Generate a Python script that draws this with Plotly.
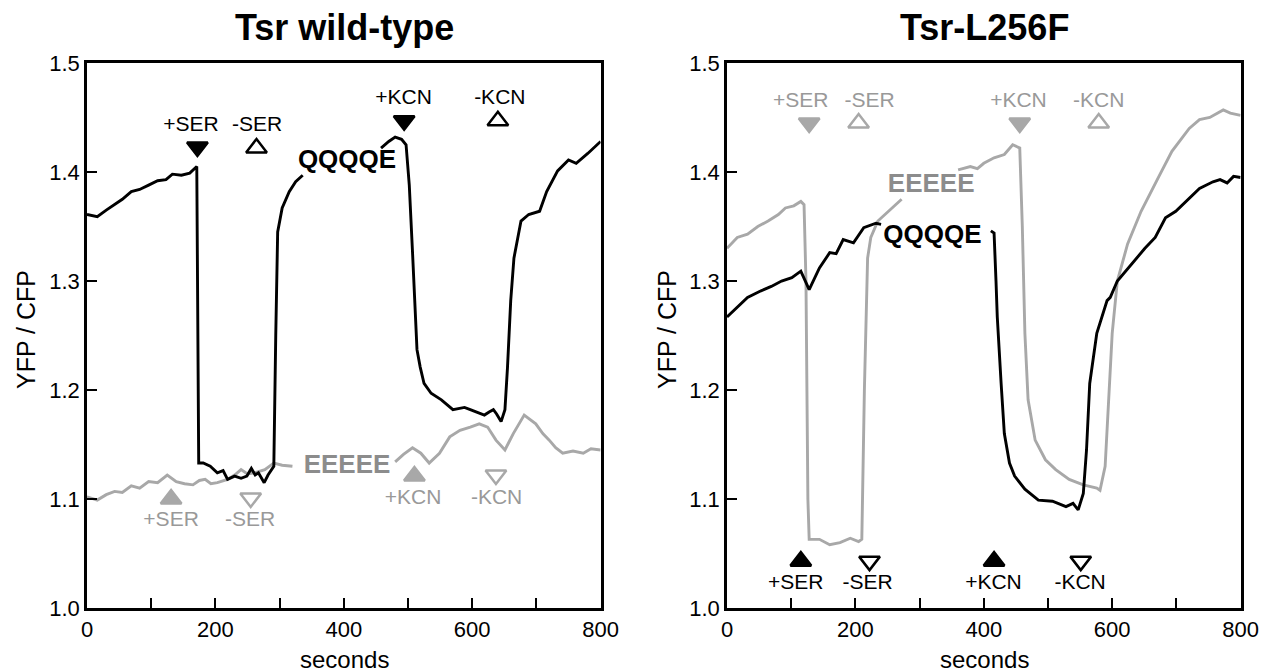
import plotly.graph_objects as go

# ---------------- data ----------------
# Left panel: Tsr wild-type
wt_qqqqe_t = [0, 16, 30, 43, 55, 69, 82, 96, 110, 123, 133, 147, 160, 171, 174, 181, 192, 203, 212, 219, 230,
              240, 249, 256, 262, 267, 276, 282, 288, 291,
              294, 297, 304, 315, 325, 336, None,
              458, 470, 480, 490, 497, 502, 507, 511, 514, 519, 525, 536, 552, 570, 588, 597, 610, 619, 627,
              633, 638, 645, 651,
              655, 660, 665, 676, 688, 705, 716, 733, 750, 762, 780, 800]
wt_qqqqe_y = [1.361, 1.359, 1.365, 1.370, 1.375, 1.382, 1.384, 1.388, 1.392, 1.393, 1.398, 1.397, 1.399, 1.405,
              1.133, 1.133, 1.130, 1.124, 1.126, 1.118, 1.121,
              1.119, 1.121, 1.128, 1.122, 1.124, 1.115, 1.122, 1.127, 1.130,
              1.250, 1.345, 1.367, 1.382, 1.391, 1.397, None,
              1.422, 1.428, 1.432, 1.430, 1.425, 1.388, 1.327, 1.267, 1.237, 1.221, 1.206, 1.197, 1.191, 1.182,
              1.184, 1.182, 1.179, 1.177, 1.180,
              1.182, 1.178, 1.171, 1.182,
              1.221, 1.282, 1.321, 1.355, 1.361, 1.364, 1.382, 1.401, 1.411, 1.408, 1.417, 1.428]

wt_eeeee_t = [0, 16, 30, 43, 55, 69, 82, 96, 110, 125, 139, 152, 165, 175, 184, 193, 203, 219, 230, 240, 250,
              261, 277, 291, 304, 320, None,
              480, 493, 507, 520, 533, 549, 565, 581, 597, 611, 624, 637, 651, 664, 681, 699, 710, 720, 730,
              741, 757, 773, 785, 800]
wt_eeeee_y = [1.102, 1.099, 1.104, 1.107, 1.106, 1.112, 1.110, 1.116, 1.115, 1.122, 1.116, 1.114, 1.113,
              1.117, 1.118, 1.114, 1.115, 1.118, 1.122, 1.127, 1.123, 1.124,
              1.127, 1.133, 1.131, 1.130, None,
              1.134, 1.141, 1.147, 1.142, 1.133, 1.142, 1.157, 1.163, 1.166, 1.169, 1.166, 1.154, 1.145,
              1.160, 1.177, 1.169, 1.160, 1.154, 1.147,
              1.142, 1.144, 1.142, 1.146, 1.145]

# Right panel: Tsr-L256F
mut_eeeee_t = [0, 16, 32, 48, 64, 80, 91, 104, 115, 120, 123, 126, 128, 144, 160, 176, 192, 205, 210, 214,
               219, 224, 235, 251, 272, None,
               360, 379, 390, 400, 416, 432, 445, 453, 456, 460, 464, 469, 480, 496, 512, 533, 555, 576, 581,
               589, 595, 600, 605, 608, 624, 645, 672, 693, 720, 736, 752, 773, 784, 800]
mut_eeeee_y = [1.330, 1.340, 1.343, 1.350, 1.355, 1.361, 1.367, 1.369, 1.373, 1.370, 1.300, 1.100, 1.063,
               1.063, 1.058, 1.060, 1.064, 1.061, 1.063, 1.200,
               1.321, 1.340, 1.355, 1.364, 1.375, None,
               1.402, 1.405, 1.403, 1.408, 1.413, 1.416, 1.425, 1.423, 1.422, 1.350, 1.252, 1.191, 1.154, 1.136,
               1.127, 1.118, 1.113, 1.110, 1.108,
               1.130, 1.191, 1.252, 1.282, 1.300, 1.334, 1.364, 1.395, 1.419, 1.440, 1.448, 1.450, 1.457,
               1.454, 1.452]

mut_qqqqe_t = [0, 16, 32, 53, 69, 85, 101, 115, 128, 144, 160, 170, 181, 197, 213, 232, 240, None,
               411, 416, 419, 421, 427, 432, 440, 448, 464, 485, 507, 528, 539, 547, 555, 560, 565, 576,
               592, 597, 608, 629, 651, 667, 683, 699, 720, 736, 757, 768, 779, 789, 800]
mut_qqqqe_y = [1.267, 1.276, 1.285, 1.291, 1.295, 1.300, 1.303, 1.309, 1.292, 1.312, 1.326, 1.325, 1.338, 1.335,
               1.349, 1.353, 1.352, None,
               1.346, 1.344, 1.300, 1.267, 1.206, 1.160, 1.133, 1.121, 1.109, 1.099, 1.098, 1.093, 1.096,
               1.090, 1.105, 1.145, 1.206, 1.252,
               1.282, 1.285, 1.300, 1.315, 1.330, 1.340, 1.358, 1.364, 1.376, 1.385, 1.391, 1.393, 1.390,
               1.396, 1.395]

# event markers
ev_labels = ["+SER", "-SER", "+KCN", "-KCN"]

wt_top_tri_t = [172, 264, 494, 640]
wt_top_tri_y = [1.423, 1.422, 1.447, 1.447]
wt_top_lab_t = [162, 265, 493, 643]
wt_top_lab_y = [1.442, 1.442, 1.467, 1.467]

wt_bot_tri_t = [131, 255, 510, 637]
wt_bot_tri_y = [1.100, 1.101, 1.121, 1.122]
wt_bot_lab_t = [131, 254, 508, 638]
wt_bot_lab_y = [1.080, 1.080, 1.100, 1.100]

mut_top_tri_t = [128, 205, 456, 579]
mut_top_tri_y = [1.445, 1.445, 1.445, 1.445]
mut_top_lab_t = [115, 222, 454, 579]
mut_top_lab_y = [1.464, 1.464, 1.464, 1.464]

mut_bot_tri_t = [115, 222, 416, 551]
mut_bot_tri_y = [1.043, 1.043, 1.043, 1.043]
mut_bot_lab_t = [107, 219, 415, 550]
mut_bot_lab_y = [1.022, 1.022, 1.022, 1.022]

series_labels = ["QQQQE", "EEEEE"]
wt_series_lab_t = [405, 405]
wt_series_lab_y = [1.410, 1.130]
mut_series_lab_t = [320, 318]
mut_series_lab_y = [1.341, 1.388]

x_ticks = [0, 100, 200, 300, 400, 500, 600, 700, 800]
x_ticktext = ["0", "", "200", "", "400", "", "600", "", "800"]
y_ticks = [1.0, 1.1, 1.2, 1.3, 1.4, 1.5]
y_ticktext = ["1.0", "1.1", "1.2", "1.3", "1.4", "1.5"]

titles = ["Tsr wild-type", "Tsr-L256F"]

# ---------------- styling ----------------
FONT = "Liberation Sans, Arial, Helvetica, sans-serif"
BLACK = "#000000"
GRAY = "#a8a8a8"
GRAY_TXT = "#999999"
GRAY_LAB = "#8c8c8c"

fig = go.Figure()


def line(t, y, color, xa, ya):
    fig.add_trace(go.Scatter(x=t, y=y, mode="lines", line=dict(color=color, width=2.9),
                             xaxis=xa, yaxis=ya, showlegend=False, hoverinfo="skip",
                             connectgaps=False))


def events(tri_t, tri_y, lab_t, lab_y, symbols, color, txtcolor, xa, ya):
    fig.add_trace(go.Scatter(x=tri_t, y=tri_y, mode="markers",
                             marker=dict(symbol=symbols, size=18, color=color,
                                         line=dict(color=color, width=2.5)),
                             xaxis=xa, yaxis=ya, showlegend=False, hoverinfo="skip"))
    fig.add_trace(go.Scatter(x=lab_t, y=lab_y, mode="text", text=ev_labels,
                             textposition="middle center",
                             textfont=dict(family=FONT, size=21, color=txtcolor),
                             xaxis=xa, yaxis=ya, showlegend=False, hoverinfo="skip"))


down_up = ["triangle-down", "triangle-up-open", "triangle-down", "triangle-up-open"]
up_down = ["triangle-up", "triangle-down-open", "triangle-up", "triangle-down-open"]

# left panel
line(wt_eeeee_t, wt_eeeee_y, GRAY, "x", "y")
line(wt_qqqqe_t, wt_qqqqe_y, BLACK, "x", "y")
events(wt_top_tri_t, wt_top_tri_y, wt_top_lab_t, wt_top_lab_y, down_up, BLACK, BLACK, "x", "y")
events(wt_bot_tri_t, wt_bot_tri_y, wt_bot_lab_t, wt_bot_lab_y, up_down, GRAY, GRAY_TXT, "x", "y")
fig.add_trace(go.Scatter(x=wt_series_lab_t, y=wt_series_lab_y, mode="text",
                         text=["<b>%s</b>" % s for s in series_labels],
                         textfont=dict(family=FONT, size=26, color=[BLACK, GRAY_LAB]),
                         xaxis="x", yaxis="y", showlegend=False, hoverinfo="skip"))

# right panel
line(mut_eeeee_t, mut_eeeee_y, GRAY, "x2", "y2")
line(mut_qqqqe_t, mut_qqqqe_y, BLACK, "x2", "y2")
events(mut_top_tri_t, mut_top_tri_y, mut_top_lab_t, mut_top_lab_y, down_up, GRAY, GRAY_TXT, "x2", "y2")
events(mut_bot_tri_t, mut_bot_tri_y, mut_bot_lab_t, mut_bot_lab_y, up_down, BLACK, BLACK, "x2", "y2")
fig.add_trace(go.Scatter(x=mut_series_lab_t, y=mut_series_lab_y, mode="text",
                         text=["<b>%s</b>" % s for s in series_labels],
                         textfont=dict(family=FONT, size=26, color=[BLACK, GRAY_LAB]),
                         xaxis="x2", yaxis="y2", showlegend=False, hoverinfo="skip"))

W, H = 1270, 672
xdom1 = [87 / W, 600.6 / W]
xdom2 = [727 / W, 1240.6 / W]
ydom = [1 - 608 / H, 1 - 63 / H]

axis_common = dict(showline=True, linecolor=BLACK, linewidth=2.6, mirror=True,
                   ticks="inside", ticklen=10, tickwidth=2.4, tickcolor=BLACK,
                   showgrid=False, zeroline=False, automargin=False,
                   tickfont=dict(family=FONT, size=22, color=BLACK))

xa = dict(axis_common, range=[0, 800], tickmode="array", tickvals=x_ticks, ticktext=x_ticktext)
ya = dict(axis_common, range=[1.0, 1.5], tickmode="array", tickvals=y_ticks, ticktext=y_ticktext)

fig.update_layout(
    template="none",
    width=W, height=H,
    margin=dict(l=0, r=0, t=0, b=0, pad=0, autoexpand=False),
    paper_bgcolor="white", plot_bgcolor="white",
    xaxis=dict(xa, domain=xdom1, anchor="y"),
    yaxis=dict(ya, domain=ydom, anchor="x"),
    xaxis2=dict(xa, domain=xdom2, anchor="y2"),
    yaxis2=dict(ya, domain=ydom, anchor="x2"),
    showlegend=False,
)

ann = []
for i, (cx, ttl) in enumerate([(344, titles[0]), (984, titles[1])]):
    ann.append(dict(text="<b>%s</b>" % ttl, x=cx / W, y=1 - 28 / H, xref="paper", yref="paper",
                    showarrow=False, xanchor="center", yanchor="middle",
                    font=dict(family=FONT, size=36, color=BLACK)))
    ann.append(dict(text="seconds", x=cx / W, y=1 - 659 / H, xref="paper", yref="paper",
                    showarrow=False, xanchor="center", yanchor="middle",
                    font=dict(family=FONT, size=24, color=BLACK)))
for lx in [26, 667]:
    ann.append(dict(text="YFP / CFP", x=lx / W, y=1 - 330 / H, xref="paper", yref="paper",
                    showarrow=False, xanchor="center", yanchor="middle", textangle=-90,
                    font=dict(family=FONT, size=25, color=BLACK)))
fig.update_layout(annotations=ann)

fig.write_html("out.html")
